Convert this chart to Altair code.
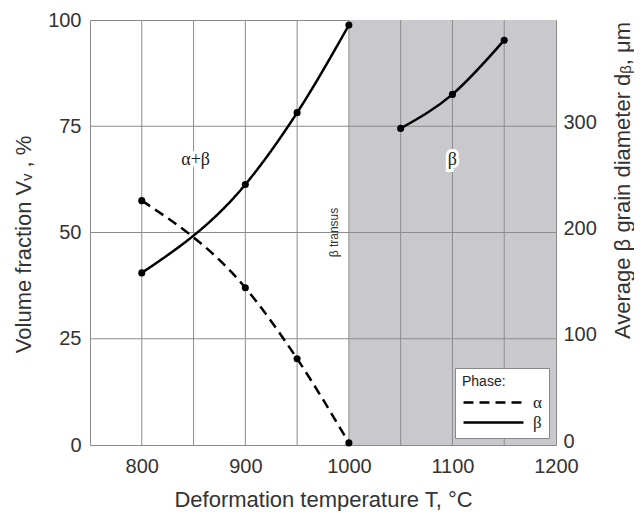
import altair as alt
import pandas as pd

# ---- data ----
phase_temps = [800, 900, 950, 1000]
alpha_vals = [57.5, 37.0, 20.3, 0.5]
beta_vals = [40.5, 61.3, 78.2, 98.8]
grain_temps = [1050, 1100, 1150]
grain_vals = [298, 330, 381]
x_ticks = [800, 900, 1000, 1100, 1200]
x_grid = [800, 850, 900, 950, 1000, 1050, 1100, 1150]
y_grid = [25, 50, 75]
y_ticks = [0, 25, 50, 75, 100]
d_ticks = [0, 100, 200, 300]
beta_region = [1000, 1200]
region_labels = ["α+β", "β"]
region_label_x = [852, 1100]
region_label_y = [67, 67]

W, H = 466, 425
X_DOM = [750, 1200]

phase_df = pd.DataFrame({
    "T": phase_temps * 2,
    "v": alpha_vals + beta_vals,
    "phase": ["α"] * len(phase_temps) + ["β"] * len(phase_temps),
})
grain_df = pd.DataFrame({"T": grain_temps, "d": grain_vals})
rect_df = pd.DataFrame({"T": [beta_region[0]], "T2": [beta_region[1]], "y": [0], "y2": [100]})
vgrid_df = pd.DataFrame({"T": x_grid})
hgrid_df = pd.DataFrame({"g": y_grid})
lab_df = pd.DataFrame({"t": region_labels, "T": region_label_x, "y": region_label_y})
transus_df = pd.DataFrame({"t": ["β transus"], "T": [986], "y": [50]})

xs = alt.Scale(domain=X_DOM, nice=False, zero=False)
ys = alt.Scale(domain=[0, 100], nice=False)
ds = alt.Scale(domain=[0, 400], nice=False)

x_axis = alt.Axis(values=x_ticks, title="Deformation temperature T, °C", grid=False,
                  labelPadding=11, titlePadding=13, format="d", labelFlush=False)
y_axis = alt.Axis(orient="left", values=y_ticks, title="Volume fraction Vᵥ , %", grid=False,
                  labelPadding=9, titlePadding=12, titleY=224)
d_axis = alt.Axis(orient="right", values=d_ticks, title="Average β grain diameter dᵦ, μm",
                  grid=False, labelPadding=7, labelOffset=-4, titleAngle=270, titleX=66,
                  titleY=160, titleAlign="center", titleBaseline="middle")


def X(field="T:Q"):
    return alt.X(field, scale=xs, axis=x_axis)


rect = alt.Chart(rect_df).mark_rect(fill="#c9c9cd").encode(
    x=X(), x2="T2:Q",
    y=alt.Y("y:Q", scale=ys, axis=None), y2="y2:Q")

vgrid = alt.Chart(vgrid_df).mark_rule(color="#8c8c8c", strokeWidth=1).encode(x=X())
hgrid = alt.Chart(hgrid_df).mark_rule(color="#8c8c8c", strokeWidth=1).encode(
    y=alt.Y("g:Q", scale=ys, axis=None))

dash = alt.StrokeDash("phase:N",
                      scale=alt.Scale(domain=["α", "β"], range=[[10, 6], [1, 0]]),
                      legend=alt.Legend(title="Phase:", orient="none", legendX=365, legendY=348,
                                        fillColor="white", strokeColor="#888", padding=7,
                                        symbolType="M-1,0H5", symbolSize=400,
                                        symbolStrokeWidth=2.5, symbolStrokeColor="black",
                                        labelFont="Liberation Serif", labelFontSize=17,
                                        labelOffset=48, labelColor="#222",
                                        titleFont="Liberation Sans", titleFontSize=14,
                                        titleColor="#222", titlePadding=2,
                                        titleFontWeight="normal", rowPadding=0))

lines = alt.Chart(phase_df).mark_line(color="black", strokeWidth=2.5, interpolate="monotone").encode(
    x=X(),
    y=alt.Y("v:Q", scale=ys, axis=y_axis),
    strokeDash=dash, detail="phase:N")
pts = alt.Chart(phase_df).mark_circle(color="black", size=50, opacity=1).encode(
    x=X(), y=alt.Y("v:Q", scale=ys, axis=None))

halo = alt.Chart(lab_df).mark_text(font="Liberation Serif", fontSize=18, color="white",
                                   stroke="white", strokeWidth=6).encode(
    x=X(), y=alt.Y("y:Q", scale=ys, axis=None), text="t:N")
labels = alt.Chart(lab_df).mark_text(font="Liberation Serif", fontSize=18, color="#222").encode(
    x=X(), y=alt.Y("y:Q", scale=ys, axis=None), text="t:N")
transus = alt.Chart(transus_df).mark_text(font="Liberation Sans", fontSize=12, angle=270,
                                           color="#333").encode(
    x=X(), y=alt.Y("y:Q", scale=ys, axis=None), text="t:N")

gline = alt.Chart(grain_df).mark_line(color="black", strokeWidth=2.5, interpolate="monotone").encode(
    x=X(), y=alt.Y("d:Q", scale=ds, axis=d_axis))
gpts = alt.Chart(grain_df).mark_circle(color="black", size=50, opacity=1).encode(
    x=X(), y=alt.Y("d:Q", scale=ds, axis=None))

chart = alt.layer(rect, vgrid, hgrid, lines, pts, halo, labels, transus, gline, gpts).resolve_scale(
    y="independent"
).properties(
    width=W, height=H,
    autosize=alt.AutoSizeParams(type="none"),
    padding={"left": 82, "top": 12, "right": 78, "bottom": 66},
    background="white",
).configure_view(stroke="#8a8a8a", strokeWidth=1).configure_axis(
    domain=False, ticks=False,
    labelFont="Liberation Sans", labelFontSize=20, labelColor="#333",
    titleFont="Liberation Sans", titleFontSize=22, titleFontWeight="normal", titleColor="#333",
)

chart.save("out.html", embed_options={"renderer": "svg", "actions": False})
